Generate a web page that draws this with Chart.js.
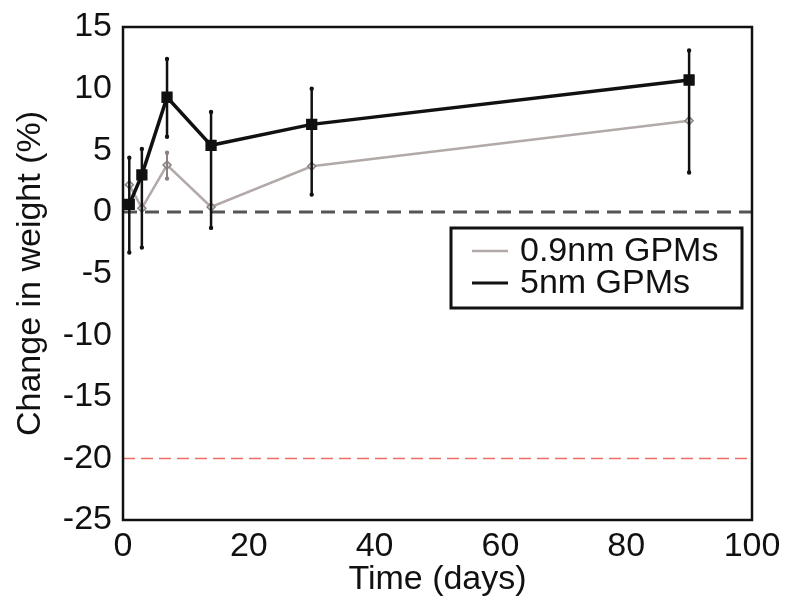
<!DOCTYPE html>
<html>
<head>
<meta charset="utf-8">
<script src="https://cdn.jsdelivr.net/npm/chart.js@4.4.1/dist/chart.umd.min.js"></script>
<style>
html,body{margin:0;padding:0;background:#fff;}
#wrap{width:787px;height:607px;}
</style>
</head>
<body>
<div id="wrap"><canvas id="c" width="787" height="607"></canvas></div>
<script>
const days = [1, 3, 7, 14, 30, 90];
const seriesLabels = ['0.9nm GPMs', '5nm GPMs'];
const gpm09Mean = [2.2, 0.3, 3.8, 0.4, 3.7, 7.4];
const gpm09Low  = [2.2, 0.3, 2.7, 0.4, 3.7, 7.4];
const gpm09High = [2.2, 0.3, 4.8, 0.4, 3.7, 7.4];
const gpm5Mean = [0.6, 3.0, 9.3, 5.4, 7.1, 10.7];
const gpm5Low  = [-3.3, -2.9, 6.1, -1.3, 1.4, 3.2];
const gpm5High = [4.4, 5.1, 12.4, 8.1, 10.0, 13.1];
const refX = [0, 100];
const zeroLine = [0, 0];
const limitLine = [-20, -20];
const xTicks = [0, 20, 40, 60, 80, 100];
const yTicks = [-25, -20, -15, -10, -5, 0, 5, 10, 15];

const FONT = "'Liberation Sans', Arial, sans-serif";
const FS = 34;
const toPts = (xs, ys) => xs.map((x, i) => ({x: x, y: ys[i]}));

const errorBars = {
  id: 'errorBars',
  afterDatasetsDraw(chart) {
    const {ctx, scales: {x, y}} = chart;
    const sets = [[gpm09Low, gpm09High, '#8a8080', 2], [gpm5Low, gpm5High, '#111', 2.5]];
    ctx.save();
    sets.forEach(([lo, hi, col, w]) => {
      ctx.strokeStyle = col; ctx.lineWidth = w;
      days.forEach((d, i) => {
        if (lo[i] === hi[i]) return;
        const px = x.getPixelForValue(d);
        const y1 = y.getPixelForValue(lo[i]), y2 = y.getPixelForValue(hi[i]);
        ctx.beginPath(); ctx.moveTo(px, y1); ctx.lineTo(px, y2); ctx.stroke();
        ctx.beginPath(); ctx.arc(px, y1, 2.2, 0, Math.PI*2); ctx.arc(px, y2, 2.2, 0, Math.PI*2);
        ctx.fillStyle = col; ctx.fill();
      });
    });
    ctx.restore();
  }
};

const frameAndLegend = {
  id: 'frameAndLegend',
  afterDraw(chart) {
    const {ctx, chartArea: a} = chart;
    ctx.save();
    ctx.strokeStyle = '#111'; ctx.lineWidth = 2.5;
    ctx.strokeRect(a.left, a.top, a.right - a.left, a.bottom - a.top);
    const lx = 451, ly = 228, lw = 291, lh = 80;
    ctx.fillStyle = '#fff'; ctx.fillRect(lx, ly, lw, lh);
    ctx.lineWidth = 3; ctx.strokeRect(lx, ly, lw, lh);
    const items = [[seriesLabels[0], '#b3a9a9', 2.5, 251], [seriesLabels[1], '#111', 3, 283]];
    ctx.font = FS + "px " + FONT; ctx.textBaseline = 'middle';
    items.forEach(([t, c, w, yy]) => {
      ctx.strokeStyle = c; ctx.lineWidth = w;
      ctx.beginPath(); ctx.moveTo(472, yy); ctx.lineTo(508, yy); ctx.stroke();
      ctx.fillStyle = '#111'; ctx.fillText(t, 520, yy + 1);
    });
    ctx.restore();
  }
};

new Chart(document.getElementById('c'), {
  type: 'line',
  data: {
    datasets: [
      {label: 'zero', data: toPts(refX, zeroLine), borderColor: '#555', borderWidth: 3, borderDash: [14, 8], pointRadius: 0, order: 5},
      {label: 'limit', data: toPts(refX, limitLine), borderColor: '#ee6e66', borderWidth: 1.5, borderDash: [12, 6], pointRadius: 0, order: 5},
      {label: seriesLabels[0], data: toPts(days, gpm09Mean), borderColor: '#b3a9a9', borderWidth: 2.5, pointStyle: 'rectRot', pointRadius: 4, pointBackgroundColor: '#ddd', pointBorderColor: '#8a8080', pointBorderWidth: 1.5, order: 2},
      {label: seriesLabels[1], data: toPts(days, gpm5Mean), borderColor: '#111', borderWidth: 3.5, pointStyle: 'rect', pointRadius: 5.5, pointBackgroundColor: '#111', pointBorderColor: '#111', order: 1}
    ]
  },
  options: {
    responsive: false,
    animation: false,
    layout: {padding: {left: 4, right: 35, top: 27, bottom: 4}},
    plugins: {legend: {display: false}, tooltip: {enabled: false}},
    scales: {
      x: {
        type: 'linear', min: 0, max: 100,
        afterBuildTicks: s => { s.ticks = xTicks.map(v => ({value: v})); },
        grid: {display: false, drawTicks: false}, border: {display: false},
        ticks: {color: '#111', font: {family: FONT, size: FS}, padding: 6, maxRotation: 0, autoSkip: false},
        title: {display: true, text: 'Time (days)', color: '#111', font: {family: FONT, size: FS}, padding: {top: 0, bottom: 3}},
        afterFit: s => { s.height = 607 - 520 - 4; s.paddingLeft = 0; s.paddingRight = 0; }
      },
      y: {
        min: -25, max: 15,
        afterBuildTicks: s => { s.ticks = yTicks.map(v => ({value: v})); },
        grid: {display: false, drawTicks: false}, border: {display: false},
        ticks: {color: '#111', font: {family: FONT, size: FS}, padding: 11, autoSkip: false},
        title: {display: true, text: 'Change in weight (%)', color: '#111', font: {family: FONT, size: FS}, padding: {top: 6, bottom: 0}},
        afterFit: s => { s.width = 123 - 4; s.paddingTop = 0; s.paddingBottom = 0; }
      }
    }
  },
  plugins: [errorBars, frameAndLegend]
});
</script>
</body>
</html>
